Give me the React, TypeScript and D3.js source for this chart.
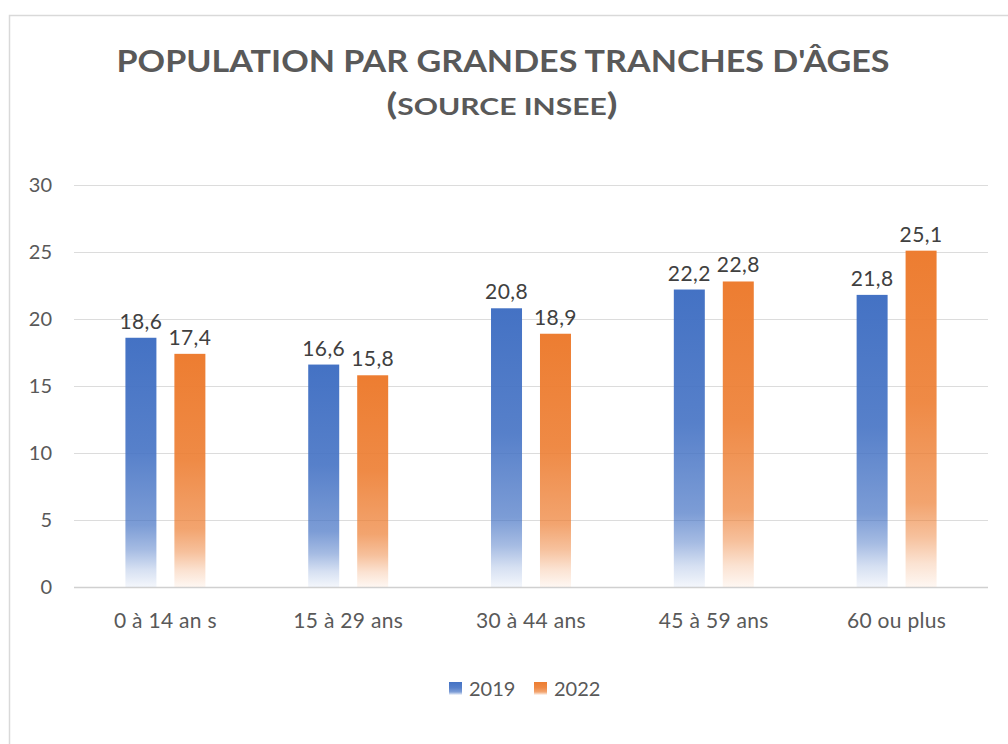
import React from "react";
import * as d3 from "d3";

const categories = ["0 à 14 an s", "15 à 29 ans", "30 à 44 ans", "45 à 59 ans", "60 ou plus"];
const seriesNames = ["2019", "2022"];
const values2019 = [18.6, 16.6, 20.8, 22.2, 21.8];
const values2022 = [17.4, 15.8, 18.9, 22.8, 25.1];
const yTicks = [0, 5, 10, 15, 20, 25, 30];
const colors = ["#4472C4", "#ED7D31"];

const W = 1008;
const H = 744;
const FONT = "Lato, Carlito, Calibri, 'Open Sans', sans-serif";

export default function App() {
  const y = d3.scaleLinear().domain([0, 30]).range([587, 185]);
  const x0 = d3.scaleBand().domain(categories).range([74, 988]).paddingInner(0).paddingOuter(0);
  const x1 = d3
    .scaleBand()
    .domain(seriesNames)
    .range([0, x0.bandwidth()])
    .paddingInner(0.367)
    .paddingOuter(1.05);
  const seriesValues = [values2019, values2022];
  const fmt = (v: number) => v.toFixed(1).replace(".", ",");

  const stops = [
    [0, 1],
    [0.45, 0.9],
    [0.75, 0.7],
    [0.85, 0.48],
    [0.93, 0.22],
    [1, 0.06],
  ];

  return (
    <svg width={W} height={H} style={{ display: "block", position: "absolute", left: 0, top: 0 }}>
      <defs>
        {colors.map((c, i) => (
          <linearGradient key={i} id={`grad${i}`} x1="0" y1="0" x2="0" y2="1">
            {stops.map(([o, op], j) => (
              <stop key={j} offset={o} stopColor={c} stopOpacity={op} />
            ))}
          </linearGradient>
        ))}
      </defs>
      <rect x={0} y={0} width={W} height={H} fill="#fff" />
      <rect x={9.5} y={15.5} width={1100} height={800} fill="#fff" stroke="#d9d9d9" strokeWidth={1.5} />

      <text
        x={503}
        y={72}
        textAnchor="middle"
        fontFamily={FONT}
        fontWeight="bold"
        fontSize={31}
        fill="#595959"
        textLength={773}
        lengthAdjust="spacingAndGlyphs"
      >
        POPULATION PAR GRANDES TRANCHES D'ÂGES
      </text>
      <text
        x={502}
        y={115}
        textAnchor="middle"
        fontFamily={FONT}
        fontWeight="bold"
        fill="#595959"
        textLength={231}
        lengthAdjust="spacingAndGlyphs"
      >
        <tspan fontSize={30}>(</tspan>
        <tspan fontSize={23}>SOURCE INSEE</tspan>
        <tspan fontSize={30}>)</tspan>
      </text>

      {yTicks.map((t) => (
        <g key={t}>
          <line
            x1={74}
            x2={988}
            y1={Math.round(y(t)) + 0.5}
            y2={Math.round(y(t)) + 0.5}
            stroke={t === 0 ? "#d0d0d0" : "#dcdcdc"}
            strokeWidth={t === 0 ? 1.5 : 1.2}
          />
          <text x={52} y={y(t) + 7} textAnchor="end" fontFamily={FONT} fontSize={20} fill="#595959">
            {t}
          </text>
        </g>
      ))}

      {categories.map((cat, ci) => (
        <g key={cat} transform={`translate(${x0(cat)},0)`}>
          {seriesNames.map((s, si) => {
            const v = seriesValues[si][ci];
            const bx = x1(s) as number;
            return (
              <g key={s}>
                <rect
                  x={bx}
                  y={y(v)}
                  width={x1.bandwidth()}
                  height={y(0) - y(v)}
                  fill={`url(#grad${si})`}
                />
                <text
                  x={bx + x1.bandwidth() / 2}
                  y={y(v) - 9}
                  textAnchor="middle"
                  fontFamily={FONT}
                  fontSize={21}
                  letterSpacing={0.4}
                  fill="#404040"
                >
                  {fmt(v)}
                </text>
              </g>
            );
          })}
          <text
            x={x0.bandwidth() / 2}
            y={628}
            textAnchor="middle"
            fontFamily={FONT}
            fontSize={21}
            letterSpacing={0.3}
            fill="#595959"
          >
            {cat}
          </text>
        </g>
      ))}

      {seriesNames.map((s, i) => {
        const lx = 449 + i * 85;
        return (
          <g key={s}>
            <rect x={lx} y={682} width={13} height={13} fill={`url(#grad${i})`} />
            <text x={lx + 20} y={696} fontFamily={FONT} fontSize={20} fill="#595959">
              {s}
            </text>
          </g>
        );
      })}
    </svg>
  );
}
